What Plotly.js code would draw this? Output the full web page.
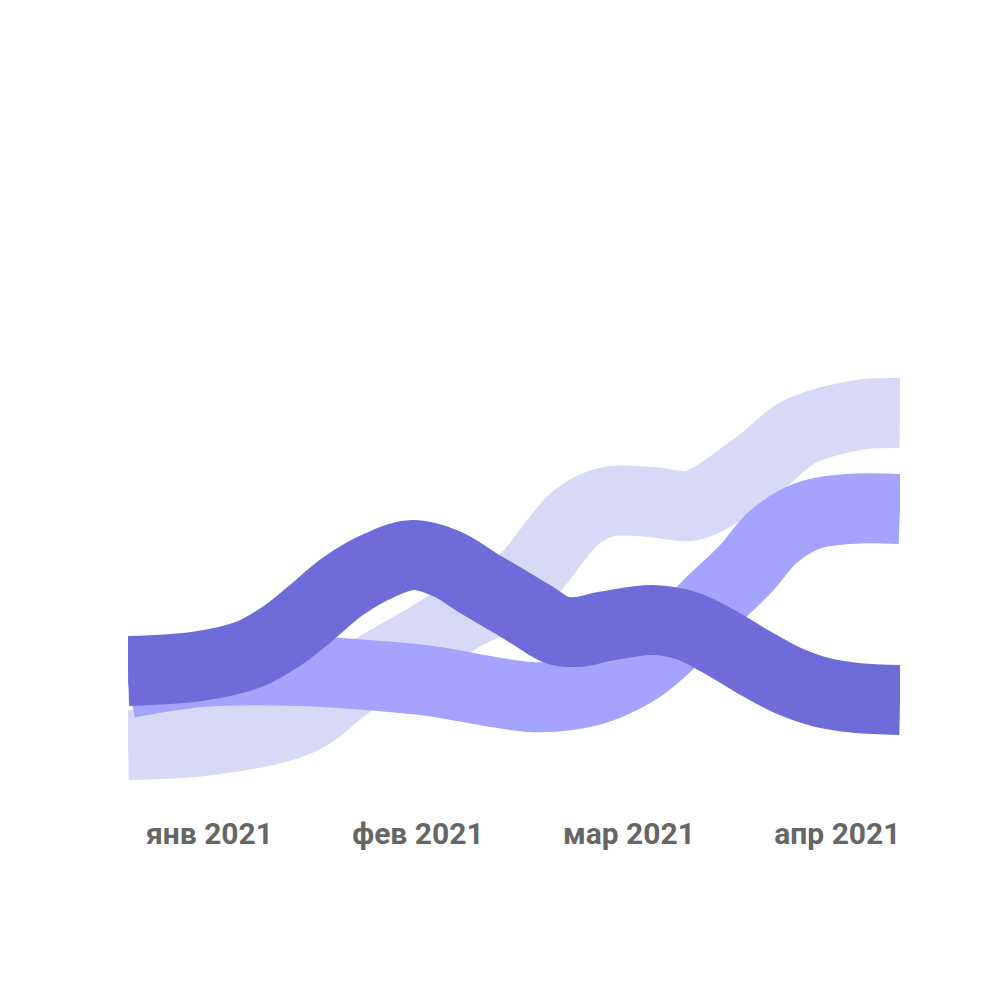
<!DOCTYPE html>
<html>
<head>
<meta charset="utf-8">
<script src="https://cdn.plot.ly/plotly-3.0.1.min.js"></script>
<style>html,body{margin:0;padding:0;background:#fff;}#chart{width:1000px;height:1000px;}</style>
</head>
<body>
<div id="chart"></div>
<script>
// x: day of period (0 = start of January, 90 = start of April)
const lightX  = [0, 9.6, 20.1, 25.9, 35.2, 39.9, 43.7, 46.9, 50.0, 52.3, 55.8, 60.9, 65.5, 67.9, 71.3, 74.0, 78.0, 81.8, 86.0, 90];
const lightY  = [55, 60, 80, 117, 164, 188, 203, 227, 261, 283, 298, 298, 294, 302, 322, 339, 367, 379, 386, 387];

const mediumX = [0, 8.4, 20.1, 29.4, 35.2, 46.9, 51.5, 55.0, 59.7, 64.3, 67.5, 72.1, 75.2, 79.2, 84.0, 90];
const mediumY = [117, 128, 129, 124, 119, 103, 105, 112, 132, 166, 194, 232, 263, 284, 291, 291];

const darkX   = [0, 8.4, 14.2, 18.1, 21.2, 25.1, 29.4, 33.2, 37.2, 41.0, 44.2, 46.9, 50.0, 52.3, 55.8, 61.2, 65.2, 69.0, 72.9, 76.8, 80.7, 85.0, 90];
const darkY   = [129, 134, 146, 165, 186, 214, 235, 245, 236, 216, 200, 186, 170, 168, 174, 180, 174, 158, 138, 120, 108, 102, 100];

const tickPos    = [9.5, 33.8, 58.4, 82.7];
const tickLabels = ['янв 2021', 'фев 2021', 'мар 2021', 'апр 2021'];

const colors = {light: '#d8d8f7', medium: '#a4a3fd', dark: '#6e6cd8'};

function band(x, y, color) {
  return {
    x: x, y: y, type: 'scatter', mode: 'lines',
    line: {color: color, width: 70, shape: 'spline', smoothing: 1, simplify: false},
    hoverinfo: 'skip', showlegend: false
  };
}

const data = [
  band(lightX, lightY, colors.light),
  band(mediumX, mediumY, colors.medium),
  band(darkX, darkY, colors.dark)
];

const layout = {
  width: 1000, height: 1000,
  margin: {l: 128, r: 100, t: 100, b: 200},
  paper_bgcolor: '#ffffff', plot_bgcolor: '#ffffff',
  showlegend: false,
  xaxis: {
    range: [0, 90], showgrid: false, zeroline: false, showline: false,
    ticks: '', tickmode: 'array', tickvals: tickPos, ticktext: tickLabels,
    ticklabelstandoff: 13,
    tickfont: {family: 'Roboto', size: 30, color: '#666666', weight: 700},
    fixedrange: true
  },
  yaxis: {
    range: [0, 700], showgrid: false, zeroline: false, showline: false,
    showticklabels: false, ticks: '', fixedrange: true
  }
};

Plotly.newPlot('chart', data, layout, {staticPlot: true, displayModeBar: false});
</script>
</body>
</html>
